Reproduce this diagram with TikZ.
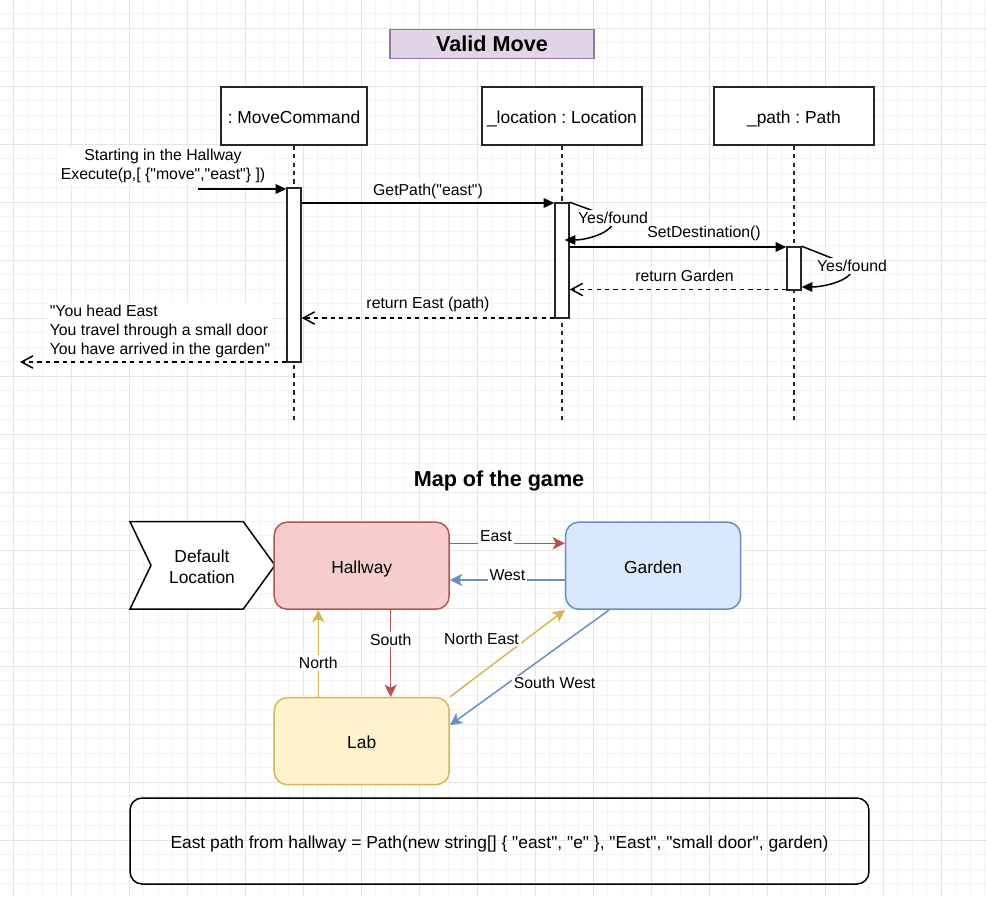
\documentclass[tikz,border=0pt]{standalone}
\usepackage{fontspec}
\setmainfont{Liberation Sans}[Ligatures=TeXOff]
\usetikzlibrary{arrows.meta,calc,positioning}
\definecolor{gridminor}{RGB}{244,244,244}
\definecolor{gridmajor}{RGB}{229,229,229}
\definecolor{titlefill}{HTML}{E1D5E7}
\definecolor{titleline}{HTML}{9673A6}
\definecolor{hallfill}{HTML}{F8CECC}
\definecolor{hallline}{HTML}{B85450}
\definecolor{gardenfill}{HTML}{DAE8FC}
\definecolor{gardenline}{HTML}{6C8EBF}
\definecolor{labfill}{HTML}{FFF2CC}
\definecolor{labline}{HTML}{D6B656}

\begin{document}
\frenchspacing
\begin{tikzpicture}[x=0.02cm, y=-0.02cm,
    minorline/.style={draw=gridminor, line width=0.55pt},
    majorline/.style={draw=gridmajor, line width=0.55pt},
    boxfont/.style={font=\fontsize{9.9}{11.9}\selectfont},
    midtext/.style={text height=8.6pt, text depth=0pt},
    lblfont/.style={font=\fontsize{9}{10.8}\selectfont},
    heading/.style={font=\fontsize{12.3}{14}\selectfont\bfseries},
    headbox/.style={draw=black!85, line width=0.85pt, fill=white, minimum height=1.16cm, inner sep=0pt, boxfont, midtext},
    actbar/.style={draw=black!85, line width=0.85pt, fill=white, minimum width=0.28cm, inner sep=0pt},
    lifeline/.style={draw=black!85, line width=0.85pt, dash pattern=on 2.4pt off 2.4pt},
    msg/.style={line width=0.85pt, -{Triangle[length=6pt,width=5.4pt]}},
    reply/.style={line width=0.85pt, dash pattern=on 2.4pt off 2.4pt, -{Straight Barb[length=6.5pt,width=7pt]}},
    elabel/.style={fill=white, inner sep=1pt, lblfont},
    room/.style={rounded corners=0.26cm, line width=0.85pt, minimum width=3.5cm, minimum height=1.74cm, inner sep=0pt, boxfont, midtext},
    way/.style={line width=0.85pt, -{Stealth[length=7pt,width=7pt,inset=1.8pt]}}]
  \useasboundingbox (0,0) rectangle (987,896);
  % background grid
  \foreach \i in {0,...,68} \draw[minorline] ({-1.2+14.5*\i},0) -- ++(0,896);
  \foreach \i in {0,...,61} \draw[minorline] (0,{-0.7+14.5*\i}) -- ++(987,0);
  \foreach \i in {0,...,16} \draw[majorline] ({13.3+58*\i},0) -- ++(0,896);
  \foreach \i in {0,...,14} \draw[majorline] (0,{28.3+58*\i}) -- ++(987,0);

  % sequence diagram
  \node[draw=titleline, fill=titlefill, line width=0.85pt, minimum width=4.08cm, minimum height=0.574cm, inner sep=0pt, heading] (title) at (492,44) {Valid Move};
  \node[headbox, minimum width=2.92cm] (mchead) at (294,116) {: MoveCommand};
  \node[headbox, minimum width=3.2cm] (lochead) at (562,116) {\_location : Location};
  \node[headbox, minimum width=3.2cm] (pathhead) at (794,116) {\_path : Path};
  \coordinate (mcend) at (294,420);
  \coordinate (locend) at (562,420);
  \coordinate (pathend) at (794,420);
  \draw[lifeline] (mchead.south) -- (mcend);
  \draw[lifeline] (lochead.south) -- (locend);
  \draw[lifeline] (pathhead.south) -- (pathend);
  \node[actbar, minimum height=3.48cm] (mcbar) at (294,275) {};
  \node[actbar, minimum height=2.3cm] (locbar) at (562,260.5) {};
  \node[actbar, minimum height=0.86cm] (pathbar) at (794,268.5) {};

  \coordinate (callin) at (198,189);
  \coordinate (getY) at (0,203);
  \coordinate (foundA) at (0,240);
  \coordinate (setY) at (0,247);
  \coordinate (foundB) at (0,287);
  \coordinate (gardenY) at (0,289.5);
  \coordinate (eastY) at (0,318);
  \coordinate (doneY) at (0,362);
  \coordinate (callout) at (20,362);
  \coordinate (yesA) at (613,218);
  \coordinate (yesB) at (852,266);

  \draw[msg] (callin) -- (mcbar.west |- callin);
  \node[elabel, align=center] (execlbl) at (163,166) {Starting in the Hallway\\Execute(p,[ \{"move","east"\} ])};
  \draw[msg] (mcbar.east |- getY) -- node[elabel, midway, yshift=6.8pt] (getlbl) {GetPath("east")} (locbar.west |- getY);
  \draw[msg] (locbar.north east) -- (yesA) .. controls +(4,14) and +(22,0) .. ($(locbar.east |- foundA)+(-5,0)$);
  \node[elabel] (yesAlbl) at (yesA) {Yes/found};
  \draw[msg] (locbar.east |- setY) -- node[elabel, pos=0.62, yshift=7.6pt] (setlbl) {SetDestination()} (pathbar.west |- setY);
  \draw[msg] (pathbar.north east) -- (yesB) .. controls +(4,14) and +(22,0) .. (pathbar.east |- foundB);
  \node[elabel] (yesBlbl) at (yesB) {Yes/found};
  \draw[reply] (pathbar.west |- gardenY) -- node[elabel, pos=0.47, yshift=8pt] (retglbl) {return Garden} (locbar.east |- gardenY);
  \draw[reply] (locbar.west |- eastY) -- node[elabel, midway, yshift=7.9pt] (retelbl) {return East (path)} (mcbar.east |- eastY);
  \draw[reply] (mcbar.west |- doneY) -- (callout);
  \node[elabel, align=left] (resultlbl) at (160,331) {"You head East\\You travel through a small door\\You have arrived in the garden"};

  % map of the game
  \node[heading] (maptitle) at (499,481) {Map of the game};
  \draw[line width=0.85pt, fill=white] (130,521.7) -- (243.3,521.7) -- (275,565.3) -- (243.3,609) -- (130,609) -- (151,565.3) -- cycle;
  \node[boxfont, align=center] (deflt) at (202,567) {Default\\Location};
  \node[room, draw=hallline, fill=hallfill] (hall) at (361.7,565.7) {Hallway};
  \node[room, draw=gardenline, fill=gardenfill, right=2.3cm of hall] (garden) {Garden};
  \node[room, draw=labline, fill=labfill, below=1.74cm of hall] (lab) {Lab};

  \draw[way, draw=hallline] ($(hall.east)+(0,-22.4)$) -- node[elabel, pos=0.4, yshift=4pt] {East} ($(garden.west)+(0,-22.4)$);
  \draw[way, draw=gardenline] ($(garden.west)+(0,14.3)$) -- node[elabel, midway, yshift=3pt] {West} ($(hall.east)+(0,14.3)$);
  \draw[way, draw=hallline] ($(hall.south)+(29,0)$) -- node[elabel, pos=0.34] {South} ($(lab.north)+(29,0)$);
  \draw[way, draw=labline] ($(lab.north)+(-43.4,0)$) -- node[elabel, pos=0.39] {North} ($(hall.south)+(-43.4,0)$);
  \draw[way, draw=labline] (lab.north east) -- node[elabel, pos=0.667, anchor=east, xshift=-3pt] {North East} (garden.south west);
  \draw[way, draw=gardenline] ($(garden.south)+(-44,0)$) -- node[elabel, pos=0.636, anchor=west, xshift=2pt] {South West} ($(lab.east)+(0,-16)$);

  \node[draw, line width=0.85pt, rounded corners=0.24cm, minimum width=14.78cm, minimum height=1.72cm, inner sep=0pt, boxfont, midtext] (note) at (499.5,841) {East path from hallway = Path(new string[] \{ "east", "e" \}, "East", "small door", garden)};
\end{tikzpicture}
\end{document}
